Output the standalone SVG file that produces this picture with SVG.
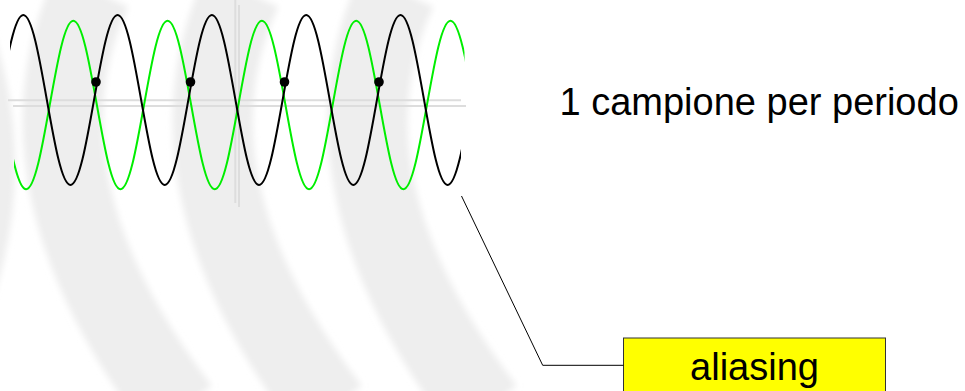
<svg xmlns="http://www.w3.org/2000/svg" width="965" height="391" viewBox="0 0 965 391">
<style>
.band{fill:none;stroke:#eeeeee;stroke-width:80}
.axis{stroke:#dddddd;stroke-width:2;fill:none}
.wave{fill:none;stroke-width:2;stroke-linejoin:round}
.txt{font-family:"Liberation Sans",Arial,sans-serif;font-size:38px;fill:#000}
.conn{fill:none;stroke:#000;stroke-width:1}
</style>
<defs>
<filter id="soft" x="-20%" y="-20%" width="140%" height="140%"><feGaussianBlur stdDeviation="3"/></filter>
<clipPath id="cb"><rect x="10" y="0" width="451" height="391"/></clipPath>
<clipPath id="cg"><rect x="14" y="0" width="450.5" height="391"/></clipPath>
</defs>
<rect width="965" height="391" fill="#ffffff"/>
<g id="background" filter="url(#soft)">
<path class="band" d="M -40,0 Q 30,165 -40,330" style="stroke-width:40"/>
<path class="band" d="M 92,-10 Q 4,180 180,410"/>
<path class="band" d="M 242,-10 Q 154,180 330,410"/>
<path class="band" d="M 397,-10 Q 309,180 485,410"/>
</g>
<g id="axes">
<line class="axis" x1="8" y1="100.3" x2="461" y2="100.3"/>
<line class="axis" x1="13" y1="106" x2="466" y2="106"/>
<line class="axis" x1="235.3" y1="0" x2="235.3" y2="203"/>
<line class="axis" x1="239" y1="5" x2="239" y2="207"/>
</g>
<g id="green-wave">
<path class="wave" stroke="#00ee00" clip-path="url(#cg)" d="M 2.575,105 c 7.69,43.19 15.04,84.3 23.575,84.3
s 15.89,-41.11 23.575,-84.3 s 15.04,-84.3 23.575,-84.3 s 15.89,41.11 23.575,84.3 s 15.04,84.3 23.575,84.3
s 15.89,-41.11 23.575,-84.3 s 15.04,-84.3 23.575,-84.3 s 15.89,41.11 23.575,84.3 s 15.04,84.3 23.575,84.3
s 15.89,-41.11 23.575,-84.3 s 15.04,-84.3 23.575,-84.3 s 15.89,41.11 23.575,84.3 s 15.04,84.3 23.575,84.3
s 15.89,-41.11 23.575,-84.3 s 15.04,-84.3 23.575,-84.3 s 15.89,41.11 23.575,84.3 s 15.04,84.3 23.575,84.3
s 15.89,-41.11 23.575,-84.3 s 15.04,-84.3 23.575,-84.3 s 15.89,41.11 23.575,84.3"/>
</g>
<g id="black-wave">
<path class="wave" stroke="#000000" clip-path="url(#cb)" d="M -0.275,100 c 7.69,-43.55 15.04,-85 23.575,-85
s 15.89,41.45 23.575,85 s 15.04,85 23.575,85 s 15.89,-41.45 23.575,-85 s 15.04,-85 23.575,-85
s 15.89,41.45 23.575,85 s 15.04,85 23.575,85 s 15.89,-41.45 23.575,-85 s 15.04,-85 23.575,-85
s 15.89,41.45 23.575,85 s 15.04,85 23.575,85 s 15.89,-41.45 23.575,-85 s 15.04,-85 23.575,-85
s 15.89,41.45 23.575,85 s 15.04,85 23.575,85 s 15.89,-41.45 23.575,-85 s 15.04,-85 23.575,-85
s 15.89,41.45 23.575,85 s 15.04,85 23.575,85 s 15.89,-41.45 23.575,-85"/>
</g>
<g id="samples" fill="#000000">
<circle cx="96" cy="82" r="4.8"/>
<circle cx="190.5" cy="82" r="4.8"/>
<circle cx="284.5" cy="82" r="4.8"/>
<circle cx="379" cy="82" r="4.8"/>
</g>
<g id="label">
<text class="txt" x="559.5" y="115">1 campione per periodo</text>
</g>
<g id="aliasing">
<rect x="623.5" y="338" width="262" height="70" fill="#ffff00" stroke="#333333" stroke-width="1"/>
<text class="txt" x="754.5" y="380" text-anchor="middle">aliasing</text>
</g>
<g id="connectors">
<polyline class="conn" points="461.5,196 542.7,365.3 623.5,365.3"/>
</g>
</svg>
